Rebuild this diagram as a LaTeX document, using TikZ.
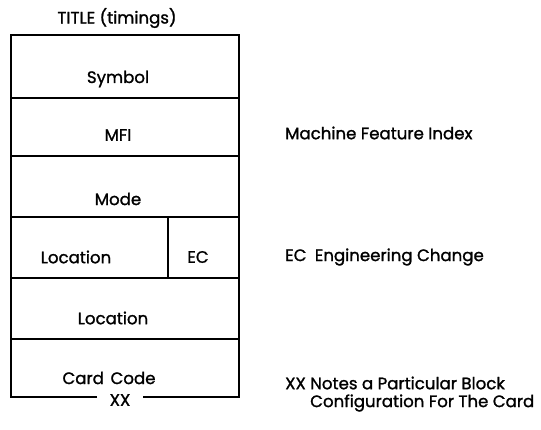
\documentclass[tikz,border=0pt]{standalone}
\usepackage{fontspec}
\setmainfont{Poppins}[FakeBold=1.3]
\begin{document}
\begin{tikzpicture}[x=1pt,y=-1pt,
  frame/.style={line width=1.6pt},
  lbl/.style={inner sep=0pt,font=\fontsize{16.6}{19}\selectfont},
  note/.style={inner sep=0pt,anchor=west,font=\fontsize{16.6}{19}\selectfont}]
\useasboundingbox (0,0) rectangle (541,430);
% frame corners
\coordinate (tl) at (11,35);
\coordinate (tr) at (239,35);
\coordinate (bl) at (11,397);
\coordinate (br) at (239,397);
\coordinate (gl) at (97,397);
\coordinate (gr) at (143,397);
\draw[frame] (gl) -- (bl) -- (tl) -- (tr) -- (br) -- (gr);
% row dividers
\draw[frame] (11,98) -- (239,98);
\draw[frame] (11,156) -- (239,156);
\draw[frame] (11,217) -- (239,217);
\draw[frame] (11,278) -- (239,278);
\draw[frame] (11,339) -- (239,339);
\draw[frame] (168,217) -- (168,278);
% texts
\node[lbl] (title) at (117,18) {TITLE (timings)};
\node[lbl] (sym) at (118,79) {Symbol};
\node[lbl] (mfi) at (118,135) {MFI};
\node[lbl] (mode) at (118,199) {Mode};
\node[lbl] (loc1) at (76,257) {Location};
\node[lbl] (ec) at (198,257) {EC};
\node[lbl] (loc2) at (113,318) {Location};
\node[lbl] (cc) at (109,378) {Card\hspace{0.4em}Code};
\node[lbl] (xx) at (120,400) {XX};
\node[note] (n1) at (285,133) {Machine Feature Index};
\node[note] (n2) at (285,257) {EC\hspace{0.5em}Engineering Change};
\node[note] (n3) at (285,383) {XX Notes a Particular Block};
\node[note] (n4) at (310,403) {Configuration For The Card};
\end{tikzpicture}
\end{document}
